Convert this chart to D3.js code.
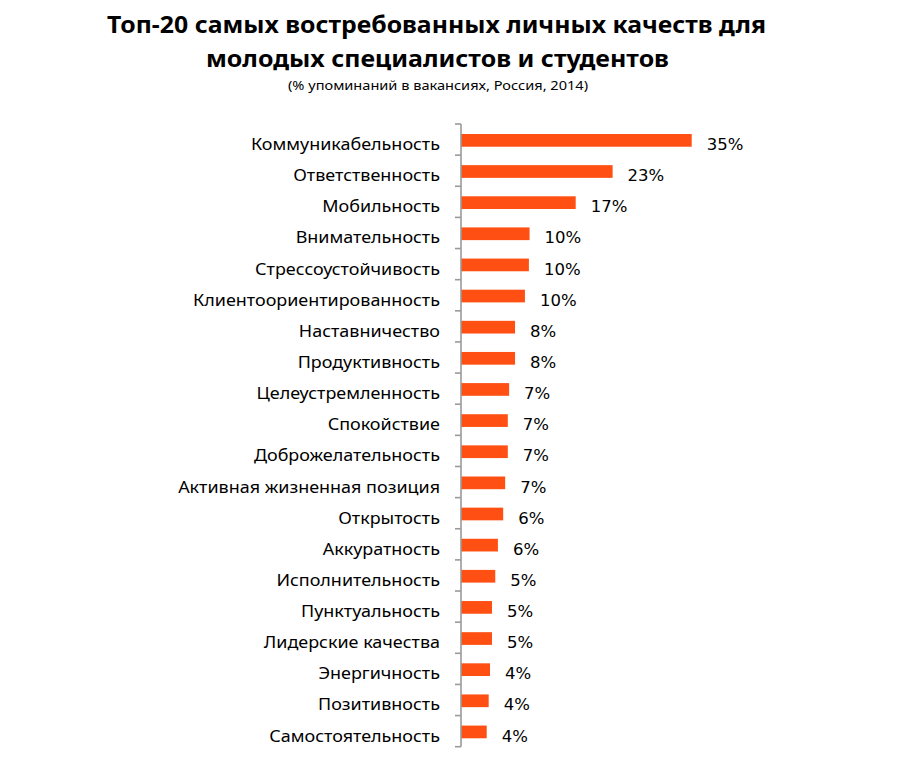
<!DOCTYPE html>
<html>
<head>
<meta charset="utf-8">
<script src="https://cdn.jsdelivr.net/npm/d3@7"></script>
<style>
  html, body { margin: 0; padding: 0; background: #fff; }
  svg { display: block; }
</style>
</head>
<body>
<svg id="chart" width="899" height="763"></svg>
<script>
const categories = [
  "Коммуникабельность", "Ответственность", "Мобильность", "Внимательность",
  "Стрессоустойчивость", "Клиентоориентированность", "Наставничество",
  "Продуктивность", "Целеустремленность", "Спокойствие", "Доброжелательность",
  "Активная жизненная позиция", "Открытость", "Аккуратность", "Исполнительность",
  "Пунктуальность", "Лидерские качества", "Энергичность", "Позитивность",
  "Самостоятельность"
];
const values = [35.0, 23.0, 17.4, 10.4, 10.3, 9.7, 8.2, 8.2, 7.3, 7.1, 7.1, 6.7, 6.4, 5.6, 5.2, 4.7, 4.7, 4.4, 4.2, 3.9];
const valueLabels = ["35%", "23%", "17%", "10%", "10%", "10%", "8%", "8%", "7%", "7%", "7%", "7%", "6%", "6%", "5%", "5%", "5%", "4%", "4%", "4%"];
const titleLines = ["Топ-20 самых востребованных личных качеств для", "молодых специалистов и студентов"];
const subtitle = "(% упоминаний в вакансиях, Россия, 2014)";

const svg = d3.select("#chart");
const axisX = 461;
const yTop = 124, yBottom = 746.7;

const x = d3.scaleLinear().domain([0, 35]).range([axisX, axisX + 230.7]);
const y = d3.scaleBand().domain(categories).range([yTop, yBottom]).padding(0);
const barH = 12.7;

// Title
const titleFont = "'Noto Sans', 'Open Sans', sans-serif";
const tl = [
  { text: titleLines[0], yb: 33, w: 659, cx: 436.5 },
  { text: titleLines[1], yb: 67, w: 463, cx: 437.5 }
];
tl.forEach(t => {
  const el = svg.append("text")
    .attr("x", t.cx).attr("y", t.yb)
    .attr("text-anchor", "middle")
    .attr("font-family", titleFont)
    .attr("font-weight", "bold")
    .attr("font-size", 23.5)
    .attr("fill", "#000")
    .text(t.text);
  const n = el.node().getComputedTextLength();
  if (Math.abs(n - t.w) > 1) el.attr("textLength", t.w).attr("lengthAdjust", "spacingAndGlyphs");
});
const st = svg.append("text")
  .attr("x", 438).attr("y", 90)
  .attr("text-anchor", "middle")
  .attr("font-family", titleFont)
  .attr("font-size", 13)
  .attr("fill", "#000")
  .text(subtitle);
{
  const n = st.node().getComputedTextLength();
  if (Math.abs(n - 300) > 1) st.attr("textLength", 300).attr("lengthAdjust", "spacingAndGlyphs");
}

// Bars
svg.append("g").selectAll("rect")
  .data(categories)
  .join("rect")
  .attr("x", x(0))
  .attr("y", d => y(d) + (y.bandwidth() - barH) / 2 + 0.8)
  .attr("width", (d, i) => x(values[i]) - x(0))
  .attr("height", barH)
  .attr("fill", "#ff4f12");

// Axis line + ticks at band boundaries
const bounds = categories.map(c => y(c)).concat([y.range()[1]]);
const ax = svg.append("g").attr("stroke", "#9a9a9a").attr("stroke-width", 1.6).attr("fill", "none");
ax.append("line").attr("x1", axisX).attr("x2", axisX).attr("y1", yTop).attr("y2", yBottom);
ax.selectAll("line.tick").data(bounds).join("line")
  .attr("class", "tick")
  .attr("x1", axisX - 6).attr("x2", axisX)
  .attr("y1", d => d).attr("y2", d => d);

// Category labels
const labelFont = "'Noto Sans', 'Open Sans', sans-serif";
const labels = svg.append("g").selectAll("text")
  .data(categories)
  .join("text")
  .attr("x", 440)
  .attr("y", d => y(d) + y.bandwidth() / 2 + 10.5)
  .attr("text-anchor", "end")
  .attr("font-family", labelFont)
  .attr("font-size", 16.4)
  .attr("fill", "#000")
  .text(d => d);
const first = labels.nodes()[0].getComputedTextLength();
const k = 189 / first;
labels.each(function() {
  const n = this.getComputedTextLength();
  d3.select(this).attr("textLength", n * k).attr("lengthAdjust", "spacingAndGlyphs");
});

// Value labels
svg.append("g").selectAll("text")
  .data(categories)
  .join("text")
  .attr("x", (d, i) => x(values[i]) + 15)
  .attr("y", d => y(d) + y.bandwidth() / 2 + 10.5)
  .attr("font-family", "'DejaVu Sans', sans-serif")
  .attr("font-size", 16.5)
  .attr("fill", "#000")
  .text((d, i) => valueLabels[i]);
</script>
</body>
</html>
